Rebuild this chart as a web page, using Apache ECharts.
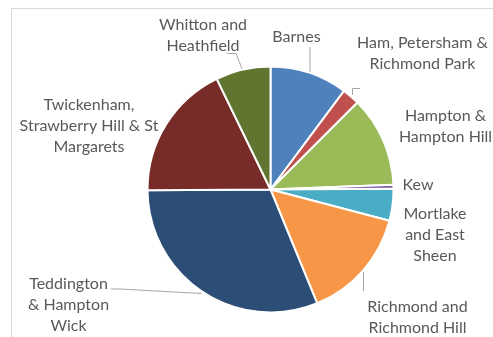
<!DOCTYPE html>
<html>
<head>
<meta charset="utf-8">
<script src="https://cdn.jsdelivr.net/npm/echarts@6/dist/echarts.min.js"></script>
<style>
  html, body { margin: 0; padding: 0; background: #ffffff; }
  #chart { width: 493px; height: 337px; }
</style>
</head>
<body>
<div id="chart"></div>
<script>
// Share of the total for each ward group (%)
const wards = [
  'Barnes',
  'Ham, Petersham & Richmond Park',
  'Hampton & Hampton Hill',
  'Kew',
  'Mortlake and East Sheen',
  'Richmond and Richmond Hill',
  'Teddington & Hampton Wick',
  'Twickenham, Strawberry Hill & St Margarets',
  'Whitton and Heathfield'
];
const shares = [10.2, 2.3, 11.9, 0.5, 4.2, 14.7, 31.1, 17.9, 7.2];

// Wrapped label text for each slice
const wrappedLabels = [
  'Barnes',
  'Ham, Petersham &\nRichmond Park',
  'Hampton &\nHampton Hill',
  'Kew',
  'Mortlake\nand East\nSheen',
  'Richmond and\nRichmond Hill',
  'Teddington\n& Hampton\nWick',
  'Twickenham,\nStrawberry Hill & St\nMargarets',
  'Whitton and\nHeathfield'
];

const sliceColors = ['#4F81BD', '#C0504D', '#9BBB59', '#8064A2', '#4BACC6',
                     '#F79646', '#2C4D75', '#772C2A', '#5F7530'];

// Label placement: block centre and optional leader line (pie edge -> label)
const labelSpots = [
  { x: 296.5, y: 37,  line: [[310, 73], [310, 60], [310, 47]] },
  { x: 422.5, y: 53.5, line: [[352.5, 95], [352.5, 88.5], [360, 88.5]] },
  { x: 445.5, y: 126 },
  { x: 418,   y: 185 },
  { x: 435,   y: 235 },
  { x: 417.5, y: 317.5, line: [[363.5, 291], [363.5, 281], [363.5, 272]] },
  { x: 68.5,  y: 304.5, line: [[201.5, 293.5], [120, 289], [111, 289]] },
  { x: 89,    y: 126 },
  { x: 203,   y: 35.5, line: [[243, 71], [236, 53.5], [227, 53.5]] }
];

const chart = echarts.init(document.getElementById('chart'), null, { renderer: 'canvas' });

chart.setOption({
  animation: false,
  backgroundColor: '#ffffff',
  graphic: [{
    type: 'rect',
    shape: { x: 11.5, y: 8.5, width: 600, height: 400 },
    style: { fill: 'none', stroke: '#d9d9d9', lineWidth: 1 },
    silent: true
  }],
  series: [{
    type: 'pie',
    center: [270.5, 189.5],
    radius: 123,
    startAngle: 90,
    clockwise: true,
    avoidLabelOverlap: false,
    itemStyle: { borderColor: '#ffffff', borderWidth: 2 },
    label: {
      show: true,
      color: '#595959',
      fontFamily: 'Lato',
      fontSize: 16,
      lineHeight: 21,
      align: 'center',
      formatter: p => wrappedLabels[p.dataIndex]
    },
    labelLine: {
      show: true,
      lineStyle: { color: '#a6a6a6', width: 1 }
    },
    labelLayout: p => {
      const s = labelSpots[p.dataIndex];
      const out = { x: s.x, y: s.y, align: 'center', verticalAlign: 'middle' };
      if (s.line) out.labelLinePoints = s.line;
      return out;
    },
    data: wards.map((name, i) => ({
      name: name,
      value: shares[i],
      itemStyle: { color: sliceColors[i] },
      labelLine: { show: !!labelSpots[i].line }
    }))
  }]
});
</script>
</body>
</html>
